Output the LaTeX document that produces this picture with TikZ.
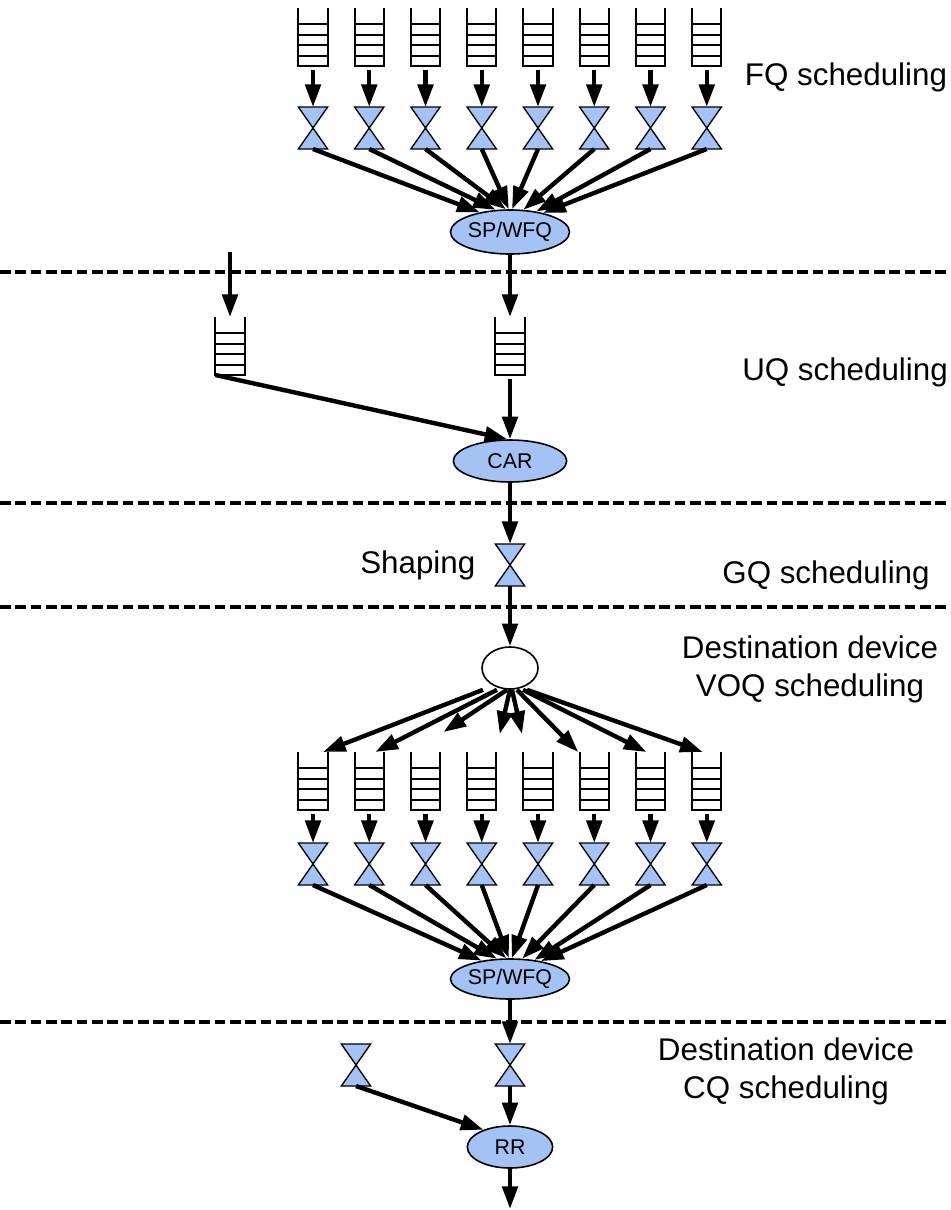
\documentclass[tikz,border=0pt]{standalone}
\usepackage{fontspec}
\setmainfont{Liberation Sans}
\usetikzlibrary{arrows.meta,calc,shapes.geometric}
\definecolor{schedblue}{RGB}{164,194,244}

% open-top queue drawn on a named box
\newcommand{\drawqueue}[1]{%
  \draw[line width=1.5pt] (#1.north west) -- (#1.south west) -- (#1.south east) -- (#1.north east);
  \foreach \f in {0.28,0.46,0.64,0.82}
    \draw[line width=1.5pt] ($(#1.north west)!\f!(#1.south west)$) -- ($(#1.north east)!\f!(#1.south east)$);}
% hourglass (shaper) drawn on a named box
\newcommand{\drawvalve}[1]{%
  \filldraw[fill=schedblue,line width=1pt] (#1.north west) -- (#1.north east) -- (#1.south west) -- (#1.south east) -- cycle;}

\begin{document}
\begin{tikzpicture}[x=0.75pt,y=-0.75pt,
  arr/.style={line width=3.3pt,-{Triangle[length=17pt,width=11.5pt]}},
  queuebox/.style={inner sep=0pt,outer sep=0pt,minimum width=22pt,minimum height=43.5pt},
  valve/.style={inner sep=0pt,outer sep=0pt,minimum width=22pt,minimum height=31.5pt},
  sched/.style={ellipse,draw,line width=1.2pt,fill=schedblue,inner sep=0pt,font=\fontsize{16}{19}\selectfont},
  lbl/.style={font=\fontsize{23.5}{28.5}\selectfont,align=center},
  divider/.style={line width=2.5pt,dash pattern=on 8pt off 3.5pt}]
\useasboundingbox (0,0) rectangle (950,1210);

% FQ level
\foreach \i in {1,...,8} {
  \pgfmathsetmacro\qx{313+56.25*(\i-1)}
  \node[queuebox] (fq\i) at (\qx,37) {};
  \node[valve] (fs\i) at (\qx,128) {};
  \drawqueue{fq\i}
  \drawvalve{fs\i}
  \draw[arr,shorten <=3pt] (fq\i.south) -- (fs\i.north);
}
\node[sched,minimum width=83pt,minimum height=33pt] (fqsched) at (510,232) {SP/WFQ};
\foreach \i/\a in {1/147,2/123,3/100,4/93,5/85,6/59,7/38,8/30}
  \draw[arr] (fs\i.south) -- (fqsched.\a);
\node[lbl] (fqlabel) at (846,77) {FQ scheduling};
\draw[divider] (0,272) -- (950,272);

% UQ level
\coordinate (uqin) at (230,252);
\node[queuebox] (uq1) at (230,346) {};
\node[queuebox] (uq2) at (510,346) {};
\drawqueue{uq1}
\drawqueue{uq2}
\node[sched,minimum width=85pt,minimum height=31.5pt] (car) at (510,461) {CAR};
\draw[arr] (uqin) -- (uq1.north);
\draw[arr] (fqsched.south) -- (uq2.north);
\draw[arr] (uq1.south west) -- (car.97);
\draw[arr,shorten <=3pt] (uq2.south) -- (car.north);
\node[lbl] (uqlabel) at (845,372) {UQ scheduling};
\draw[divider] (0,503) -- (950,503);

% GQ level
\node[valve] (shaper) at (510,565) {};
\drawvalve{shaper}
\draw[arr] (car.south) -- (shaper.north);
\node[lbl,anchor=east] (shapelabel) at (480,565) {Shaping};
\node[lbl] (gqlabel) at (826,575) {GQ scheduling};
\draw[divider] (0,607) -- (950,607);

% VOQ level
\node[ellipse,draw,line width=1.2pt,fill=white,inner sep=0pt,minimum width=42pt,minimum height=31.5pt] (dev) at (510,668) {};
\draw[arr] (shaper.south) -- (dev.north);
\node[lbl] (voqlabel) at (810,669) {Destination device\\VOQ scheduling};
\foreach \i in {1,...,8} {
  \pgfmathsetmacro\qx{313+56.25*(\i-1)}
  \node[queuebox] (vq\i) at (\qx,781) {};
  \node[valve] (vs\i) at (\qx,864) {};
  \drawqueue{vq\i}
  \drawvalve{vs\i}
  \draw[arr,shorten <=3pt] (vq\i.south) -- (vs\i.north);
}
\foreach \i/\sx/\ex/\ey in {1/-27/10/0,2/-13/6/0,3/-3/18/-20,4/0/18/-18,5/2/-16/-18,6/7/-16/0,7/13/-4/0,8/17/-4/0}
  \draw[arr] ($(dev.south)+(\sx,0)$) -- ($(vq\i.north)+(\ex,\ey)$);
\node[sched,minimum width=78pt,minimum height=30pt] (voqsched) at (510,979) {SP/WFQ};
\foreach \i/\a in {1/147,2/123,3/100,4/93,5/85,6/59,7/38,8/30}
  \draw[arr] (vs\i.south) -- (voqsched.\a);
\draw[divider] (0,1022) -- (950,1022);

% CQ level
\node[valve] (cs1) at (356,1065) {};
\node[valve] (cs2) at (510,1065) {};
\drawvalve{cs1}
\drawvalve{cs2}
\node[sched,minimum width=64pt,minimum height=31.5pt] (rr) at (510,1147) {RR};
\coordinate (cqout) at (510,1209);
\draw[arr] (voqsched.south) -- (cs2.north);
\draw[arr] (cs2.south) -- (rr.north);
\draw[arr] (cs1.south) -- (rr.147);
\draw[arr] (rr.south) -- (cqout);
\node[lbl] (cqlabel) at (786,1071) {Destination device\\CQ scheduling};
\end{tikzpicture}
\end{document}
